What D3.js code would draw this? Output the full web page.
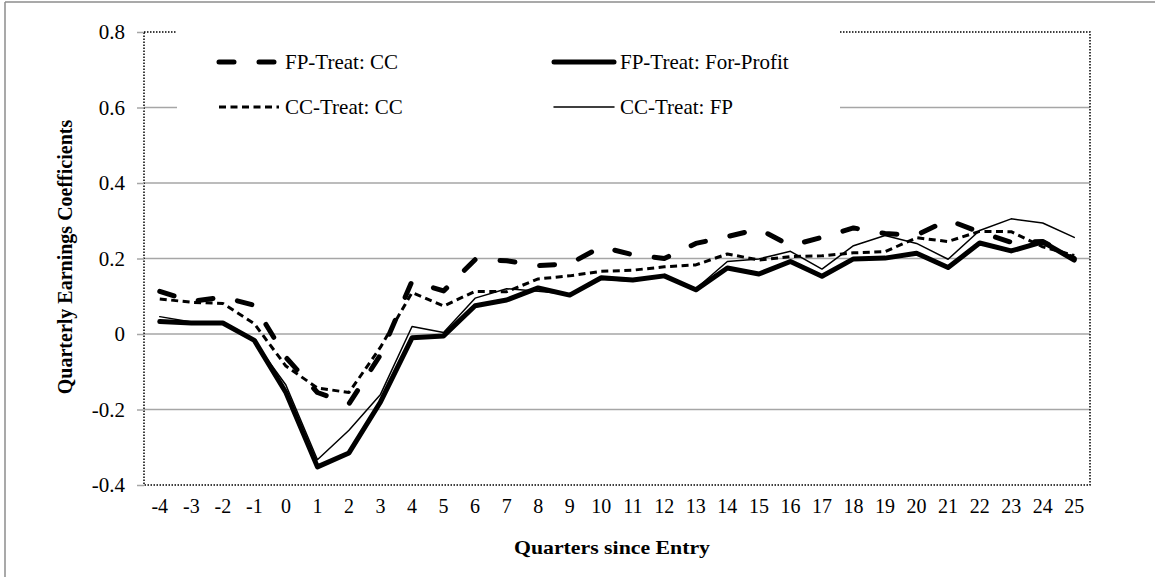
<!DOCTYPE html>
<html lang="en">
<head>
<meta charset="UTF-8">
<title>Quarterly Earnings Coefficients</title>
<script src="https://d3js.org/d3.v7.min.js"></script>
<style>
    body { margin: 0; background: #fff; }
    svg text { font-family: "Liberation Serif", "DejaVu Serif", serif !important; fill: #000; }
    .grid line { stroke: #a6a6a6; stroke-width: 1.5; }
    .frame { stroke: #000; stroke-width: 1.5; stroke-dasharray: 1.5,1.5; fill: none; }
</style>
</head>
<body>
<svg width="1155" height="577"></svg>
<script>
    // quarters since entry
    const quarters = [-4, -3, -2, -1, 0, 1, 2, 3, 4, 5, 6, 7, 8, 9, 10, 11, 12, 13, 14, 15, 16, 17, 18, 19, 20, 21, 22, 23, 24, 25];

    // coefficients
    const fpTreatCC = [0.113, 0.086, 0.098, 0.076, -0.062, -0.155, -0.185, -0.055, 0.14, 0.114, 0.197, 0.194, 0.181, 0.186, 0.231, 0.21, 0.2, 0.24, 0.258, 0.278, 0.234, 0.256, 0.281, 0.266, 0.262, 0.302, 0.27, 0.243, 0.245, 0.2];
    const fpTreatFP = [0.033, 0.029, 0.029, -0.017, -0.155, -0.352, -0.315, -0.18, -0.01, -0.005, 0.075, 0.09, 0.122, 0.103, 0.149, 0.143, 0.154, 0.117, 0.175, 0.159, 0.192, 0.153, 0.199, 0.201, 0.214, 0.176, 0.241, 0.22, 0.244, 0.196];
    const ccTreatCC = [0.093, 0.084, 0.081, 0.027, -0.085, -0.143, -0.155, -0.035, 0.11, 0.074, 0.113, 0.112, 0.146, 0.154, 0.166, 0.169, 0.178, 0.183, 0.212, 0.196, 0.205, 0.207, 0.215, 0.218, 0.255, 0.245, 0.272, 0.271, 0.231, 0.208];
    const ccTreatFP = [0.046, 0.032, 0.03, -0.02, -0.135, -0.333, -0.255, -0.16, 0.02, 0.004, 0.095, 0.12, 0.113, 0.105, 0.145, 0.14, 0.156, 0.12, 0.192, 0.199, 0.219, 0.172, 0.234, 0.261, 0.24, 0.198, 0.274, 0.305, 0.294, 0.256];

    const yTicks = [-0.4, -0.2, 0, 0.2, 0.4, 0.6, 0.8];

    const series = [
        { name: "FP-Treat: CC", values: fpTreatCC, width: 5, dash: "15,25", cap: "round" },
        { name: "FP-Treat: For-Profit", values: fpTreatFP, width: 5, dash: null, cap: "round" },
        { name: "CC-Treat: CC", values: ccTreatCC, width: 3, dash: "7,4.5", cap: "butt" },
        { name: "CC-Treat: FP", values: ccTreatFP, width: 1.5, dash: null, cap: "round" }
    ];

    const svg = d3.select("svg");
    const plotLeft = 144, plotRight = 1090, plotTop = 32, plotBottom = 485;

    const x = d3.scaleBand().domain(quarters).range([plotLeft, plotRight]);
    const y = d3.scaleLinear().domain([-0.4, 0.8]).range([plotBottom, plotTop]);

    // outer frame (cropped)
    svg.append("line").attr("x1", 5).attr("x2", 1155).attr("y1", 2).attr("y2", 2)
        .attr("stroke", "#8c8c8c").attr("stroke-width", 1.5);
    svg.append("line").attr("x1", 5).attr("x2", 5).attr("y1", 2).attr("y2", 577)
        .attr("stroke", "#8c8c8c").attr("stroke-width", 1.5);

    // gridlines
    svg.append("g").attr("class", "grid")
        .selectAll("line")
        .data(yTicks.filter(d => d > -0.4 && d < 0.8))
        .join("line")
        .attr("x1", plotLeft).attr("x2", plotRight)
        .attr("y1", d => y(d)).attr("y2", d => y(d));

    // plot border (dotted)
    svg.append("rect").attr("class", "frame")
        .attr("x", plotLeft).attr("y", plotTop)
        .attr("width", plotRight - plotLeft).attr("height", plotBottom - plotTop);

    // y axis
    const yAxis = svg.append("g")
        .attr("transform", `translate(${plotLeft},0)`)
        .call(d3.axisLeft(y).tickValues(yTicks).tickSize(7).tickPadding(12)
            .tickFormat(d => d === 0 ? "0" : d.toFixed(1)));
    yAxis.select(".domain").remove();
    yAxis.selectAll(".tick line").attr("stroke", "#a6a6a6").attr("stroke-width", 1.5);
    yAxis.selectAll(".tick text").attr("font-size", 21);

    // x axis
    const xAxis = svg.append("g")
        .attr("transform", `translate(0,${plotBottom})`)
        .call(d3.axisBottom(x).tickSize(0).tickPadding(14));
    xAxis.select(".domain").remove();
    xAxis.selectAll(".tick text").attr("font-size", 20);

    // axis titles
    svg.append("text")
        .attr("x", 612).attr("y", 554)
        .attr("text-anchor", "middle")
        .attr("font-size", 19).attr("font-weight", "bold")
        .attr("textLength", 196).attr("lengthAdjust", "spacingAndGlyphs")
        .text("Quarters since Entry");

    svg.append("text")
        .attr("transform", "translate(72,257) rotate(-90)")
        .attr("text-anchor", "middle")
        .attr("font-size", 20).attr("font-weight", "bold")
        .text("Quarterly Earnings Coefficients");

    // lines
    const line = d3.line()
        .x((d, i) => x(quarters[i]) + x.bandwidth() / 2)
        .y(d => y(d));

    svg.append("g").selectAll("path")
        .data(series)
        .join("path")
        .attr("d", d => line(d.values))
        .attr("fill", "none")
        .attr("stroke", "#000")
        .attr("stroke-width", d => d.width)
        .attr("stroke-dasharray", d => d.dash)
        .attr("stroke-linecap", d => d.cap)
        .attr("stroke-linejoin", "round");

    // legend
    const legend = svg.append("g");
    legend.append("rect")
        .attr("x", 177).attr("y", 24).attr("width", 663).attr("height", 110)
        .attr("fill", "#fff");

    const legendPos = [
        { x: 219, y: 62 },
        { x: 554, y: 62 },
        { x: 219, y: 107 },
        { x: 554, y: 107 }
    ];

    series.forEach((s, i) => {
        const p = legendPos[i];
        legend.append("line")
            .attr("x1", p.x).attr("x2", p.x + 60)
            .attr("y1", p.y).attr("y2", p.y)
            .attr("stroke", "#000")
            .attr("stroke-width", s.width)
            .attr("stroke-dasharray", s.dash)
            .attr("stroke-linecap", s.cap);
        legend.append("text")
            .attr("x", p.x + 66).attr("y", p.y + 7)
            .attr("font-size", 21)
            .text(s.name);
    });
</script>
</body>
</html>
